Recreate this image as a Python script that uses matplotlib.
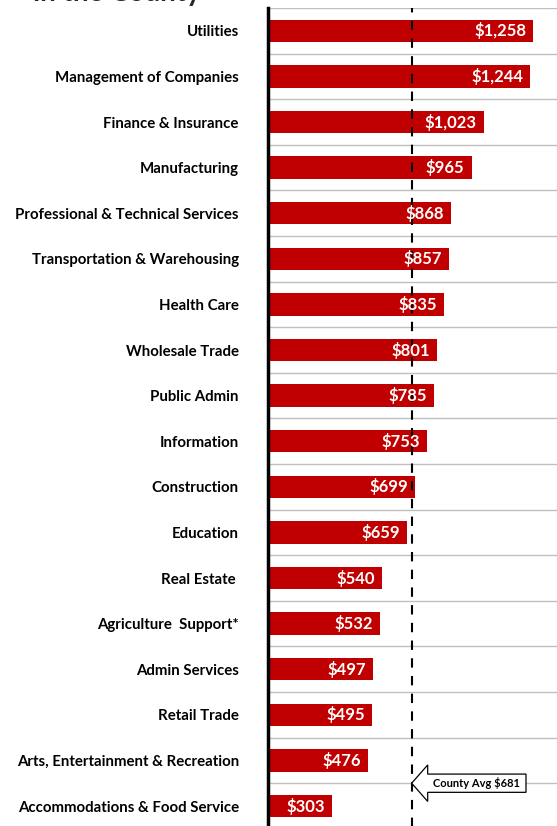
import matplotlib
matplotlib.use("Agg")
from matplotlib import pyplot as plt
from matplotlib.patches import FancyArrow

# Average weekly wage by industry
industries = [
    "Utilities", "Management of Companies", "Finance & Insurance", "Manufacturing",
    "Professional & Technical Services", "Transportation & Warehousing", "Health Care",
    "Wholesale Trade", "Public Admin", "Information", "Construction", "Education",
    "Real Estate ", "Agriculture  Support*", "Admin Services", "Retail Trade",
    "Arts, Entertainment & Recreation", "Accommodations & Food Service",
]
wages = [1258, 1244, 1023, 965, 868, 857, 835, 801, 785, 753, 699, 659, 540, 532, 497, 495, 476, 303]
county_avg = 681

plt.rcParams["font.family"] = ["Lato", "DejaVu Sans"]

W, H = 557, 826
fig = plt.figure(figsize=(W / 100, H / 100), dpi=100)
# axes: left at x=268, top at y=8, rows 45.6 px apart (last row runs off the bottom)
row = 45.6
n = len(industries)
top, left = 8, 268
ax = fig.add_axes([left / W, 1 - (top + n * row) / H, (W - left) / W, n * row / H])

y = list(range(n))
ax.barh(y, wages, height=0.49, color="#C00000", zorder=3)
ax.set_ylim(n - 0.5, -0.5)
ax.set_xlim(0, 1370)

# category boundaries
for b in range(n + 1):
    ax.axhline(b - 0.5, color="#BFBFBF", lw=1, zorder=1)

ax.axvline(county_avg, color="black", lw=1.5, ls=(0, (4.5, 4)), zorder=4)

for i, v in enumerate(wages):
    ax.annotate(f"${v:,}", (v, i), xytext=(-5, 0), textcoords="offset points",
                ha="right", va="center", color="white",
                fontsize=12, fontweight="bold", zorder=5)

ax.set_yticks(y)
ax.set_yticklabels(industries, fontsize=10.8, fontweight="bold")
ax.tick_params(axis="y", length=0, pad=21)
ax.set_xticks([])
for s in ["top", "right", "bottom"]:
    ax.spines[s].set_visible(False)
ax.spines["left"].set_linewidth(2.5)
ax.spines["left"].set_zorder(6)

# callout arrow pointing at the county average line
yc = n - 1.5
arrow = FancyArrow(1223, yc, county_avg - 1223, 0, width=0.4, head_width=0.8,
                   head_length=76, length_includes_head=True,
                   fc="white", ec="black", lw=0.9, zorder=6)
ax.add_patch(arrow)
ax.text(990, yc, "County Avg $681", ha="center", va="center",
        fontsize=8, fontweight="bold", zorder=7)

# title sits mostly above the crop, only its lowest pixels show
fig.text(33 / W, 1 - 1 / H, "in the County", ha="left", va="baseline",
         fontsize=20, fontweight="bold", color="#262626")

fig.savefig("out.png", dpi=100)
